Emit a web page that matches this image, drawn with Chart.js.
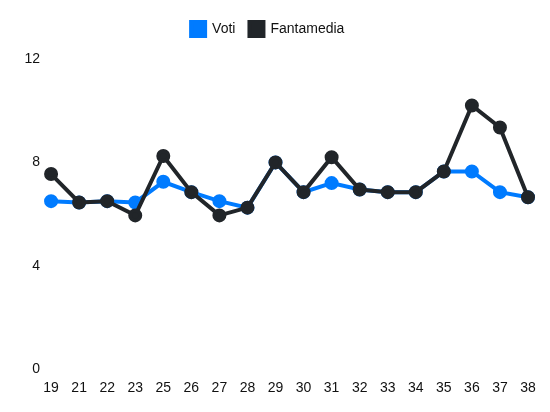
<!DOCTYPE html>
<html>
<head>
<meta charset="utf-8">
<script src="https://cdn.jsdelivr.net/npm/chart.js@4/dist/chart.umd.min.js"></script>
<style>
html,body{margin:0;padding:0;background:#fff;}
#wrap{width:550px;height:412px;}
</style>
</head>
<body>
<div id="wrap"><canvas id="c"></canvas></div>
<script>
const giornate = ['19','21','22','23','25','26','27','28','29','30','31','32','33','34','35','36','37','38'];
const voti =       [6.5, 6.45, 6.5, 6.45, 7.25, 6.85, 6.5, 6.25, 8, 6.85, 7.2, 6.95, 6.85, 6.85, 7.65, 7.65, 6.85, 6.65];
const fantamedia = [7.55, 6.45, 6.5, 5.95, 8.25, 6.85, 5.95, 6.25, 8, 6.85, 8.2, 6.95, 6.85, 6.85, 7.65, 10.2, 9.35, 6.65];
const yTicks = [0, 4, 8, 12];

Chart.defaults.font.family = '"Liberation Sans", Arial, Helvetica, sans-serif';
Chart.defaults.font.size = 14;
Chart.defaults.color = '#111';

const legendSpacing = {
  id: 'legendSpacing',
  beforeInit(chart) {
    const orig = chart.legend.fit;
    chart.legend.fit = function () { orig.call(this); this.height += 13; };
  },
  afterLayout(chart) {
    chart.legend.right -= 14;
  }
};

new Chart(document.getElementById('c'), {
  type: 'line',
  data: {
    labels: giornate,
    datasets: [
      { label: 'Fantamedia', data: fantamedia, borderColor: '#212529', backgroundColor: '#212529',
        borderWidth: 4, pointRadius: 5, pointHoverRadius: 5, tension: 0, fill: false },
      { label: 'Voti', data: voti, borderColor: '#007bff', backgroundColor: '#007bff',
        borderWidth: 4, pointRadius: 5, pointHoverRadius: 5, tension: 0, fill: false }
    ]
  },
  plugins: [legendSpacing],
  options: {
    responsive: true,
    maintainAspectRatio: false,
    animation: false,
    layout: { padding: { left: 21.5, right: 22, top: 8, bottom: 12 } },
    plugins: {
      legend: { position: 'top', reverse: true, labels: { boxWidth: 14, boxHeight: 14, padding: 14 } },
      tooltip: { enabled: false }
    },
    scales: {
      x: { grid: { display: false }, border: { display: false },
           ticks: { autoSkip: false, maxRotation: 0 } },
      y: { min: 0, max: 12, grid: { display: false }, border: { display: false },
           afterBuildTicks: (s) => { s.ticks = yTicks.map(v => ({ value: v })); },
           ticks: { stepSize: 4 } }
    }
  }
});
</script>
</body>
</html>
